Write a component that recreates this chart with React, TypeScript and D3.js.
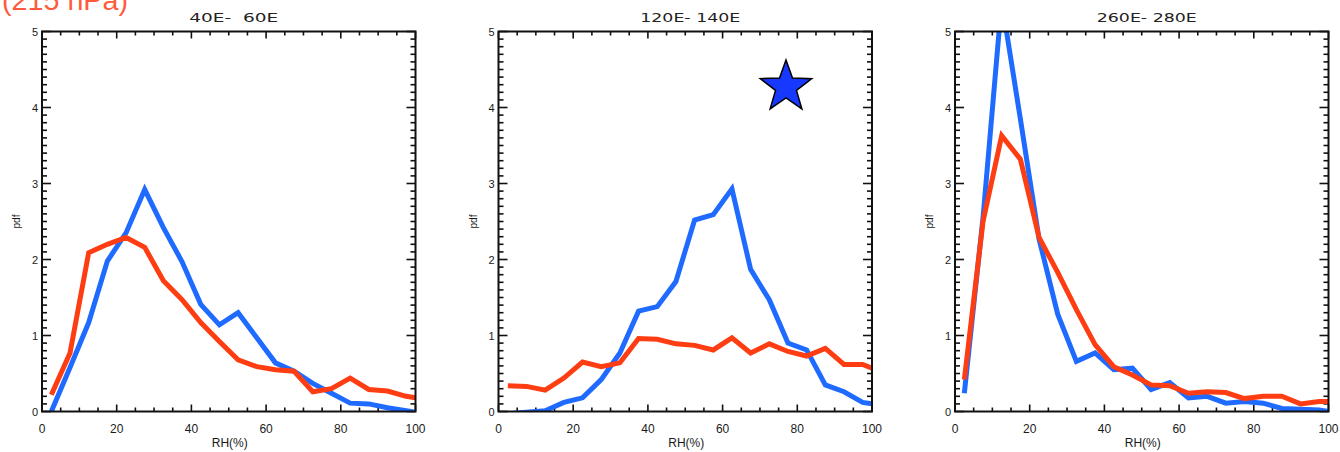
import React from 'react';
import * as d3 from 'd3';

// RH bin centres (%), last point at the right edge
const rhBins = [2.5, 7.5, 12.5, 17.5, 22.5, 27.5, 32.5, 37.5, 42.5, 47.5, 52.5, 57.5, 62.5, 67.5, 72.5, 77.5, 82.5, 87.5, 92.5, 97.5, 100];

const panelTitles = ['40E-  60E', '120E- 140E', '260E- 280E'];

const blue40E60E = [0.0, 0.58, 1.17, 1.98, 2.35, 2.92, 2.42, 1.97, 1.41, 1.14, 1.30, 0.97, 0.64, 0.53, 0.37, 0.24, 0.11, 0.10, 0.05, 0.01, -0.01];
const red40E60E = [0.22, 0.77, 2.09, 2.20, 2.29, 2.16, 1.72, 1.47, 1.17, 0.92, 0.68, 0.59, 0.55, 0.53, 0.26, 0.30, 0.44, 0.29, 0.27, 0.20, 0.18];

const blue120E140E = [-0.03, -0.01, 0.01, 0.12, 0.18, 0.42, 0.77, 1.32, 1.38, 1.71, 2.52, 2.59, 2.93, 1.87, 1.47, 0.90, 0.81, 0.35, 0.26, 0.12, 0.10];
const red120E140E = [0.34, 0.33, 0.28, 0.44, 0.65, 0.59, 0.64, 0.96, 0.95, 0.89, 0.87, 0.81, 0.97, 0.77, 0.89, 0.79, 0.73, 0.83, 0.62, 0.62, 0.57];

const blue260E280E = [0.24, 2.55, 5.40, 3.85, 2.27, 1.28, 0.66, 0.77, 0.55, 0.57, 0.29, 0.38, 0.18, 0.20, 0.11, 0.13, 0.11, 0.04, 0.03, 0.02, 0.0];
const red260E280E = [0.42, 2.50, 3.63, 3.32, 2.29, 1.83, 1.34, 0.88, 0.59, 0.48, 0.35, 0.34, 0.24, 0.26, 0.25, 0.17, 0.20, 0.20, 0.10, 0.13, 0.13];

const blueSeries = [blue40E60E, blue120E140E, blue260E280E];
const redSeries = [red40E60E, red120E140E, red260E280E];

const xTickLabels = [0, 20, 40, 60, 80, 100];
const yTickLabels = [0, 1, 2, 3, 4, 5];

const pressureLabel = '(215 hPa)';
const xAxisTitle = 'RH(%)';
const yAxisTitle = 'pdf';

// Layout
const W = 1340;
const H = 452;
const panelLefts = [42, 498.5, 955];
const plotW = 373.5;
const plotTop = 31.5;
const plotBottom = 411.5;
const titleLengths = [89, 100, 100];

const BLUE = '#1f6bff';
const RED = '#ff3d12';
const AXIS = '#111';
const FONT = "'Liberation Sans', Arial, sans-serif";
const TITLE_FONT = "'DejaVu Sans', 'Liberation Sans', sans-serif";

function Panel({ idx }: { idx: number }) {
  const left = panelLefts[idx];
  const right = left + plotW;
  const x = d3.scaleLinear().domain([0, 100]).range([left, right]);
  const y = d3.scaleLinear().domain([0, 5]).range([plotBottom, plotTop]);
  const line = d3
    .line<number>()
    .x((_, k) => x(rhBins[k]))
    .y((d) => y(d));

  const xMinor = d3.range(0, 100.001, 5);
  const yMinor = d3.range(0, 5.0001, 0.1);
  const clipId = `clip-${idx}`;
  const cx = (left + right) / 2;

  return (
    <g>
      <defs>
        <clipPath id={clipId}>
          <rect x={left} y={plotTop} width={plotW} height={plotBottom - plotTop} />
        </clipPath>
      </defs>
      <text
        x={cx + 5}
        y={22}
        fontSize={11.5}
        fontFamily={TITLE_FONT}
        fill="#222"
        textAnchor="middle"
        textLength={titleLengths[idx]}
        lengthAdjust="spacingAndGlyphs"
        style={{ whiteSpace: 'pre' }}
      >
        {panelTitles[idx]}
      </text>

      {/* ticks */}
      <g stroke={AXIS} strokeWidth={1.6}>
        {xMinor.map((v) => {
          const major = v % 20 === 0;
          const len = major ? 7 : 4;
          return (
            <g key={'xt' + v}>
              <line x1={x(v)} x2={x(v)} y1={plotBottom} y2={plotBottom - len} />
              <line x1={x(v)} x2={x(v)} y1={plotTop} y2={plotTop + len} />
            </g>
          );
        })}
        {yMinor.map((v, k) => {
          const major = k % 10 === 0;
          const len = major ? 9 : 5;
          return (
            <g key={'yt' + k}>
              <line x1={left} x2={left + len} y1={y(v)} y2={y(v)} />
              <line x1={right} x2={right - len} y1={y(v)} y2={y(v)} />
            </g>
          );
        })}
      </g>

      {/* data */}
      <g clipPath={`url(#${clipId})`} fill="none" strokeWidth={5} strokeLinejoin="miter" strokeMiterlimit={4}>
        <path d={line(blueSeries[idx]) || ''} stroke={BLUE} />
        <path d={line(redSeries[idx]) || ''} stroke={RED} />
      </g>

      {/* frame */}
      <rect x={left} y={plotTop} width={plotW} height={plotBottom - plotTop} fill="none" stroke={AXIS} strokeWidth={2} />

      {/* tick labels */}
      <g fontFamily={FONT} fontSize={12} fill="#1a1a1a">
        {xTickLabels.map((v) => (
          <text key={'xl' + v} x={x(v)} y={433} textAnchor="middle">
            {v}
          </text>
        ))}
        {yTickLabels.map((v) => (
          <text key={'yl' + v} x={left - 4} y={y(v) + 4} textAnchor="end" fontSize={11}>
            {v}
          </text>
        ))}
      </g>
      <text x={cx + 1} y={447} textAnchor="middle" fontFamily={FONT} fontSize={12} fill="#1a1a1a">
        {xAxisTitle}
      </text>
      <text
        transform={`translate(${left - 22},${(plotTop + plotBottom) / 2}) rotate(-90)`}
        textAnchor="middle"
        fontFamily={FONT}
        fontSize={10}
        fill="#1a1a1a"
      >
        {yAxisTitle}
      </text>
    </g>
  );
}

function starPath(cx: number, cy: number, R: number, r: number) {
  const pts: [number, number][] = [];
  for (let k = 0; k < 10; k++) {
    const a = -Math.PI / 2 + (k * Math.PI) / 5;
    const rad = k % 2 === 0 ? R : r;
    pts.push([cx + rad * Math.cos(a), cy + rad * Math.sin(a)]);
  }
  return d3.line()(pts) + 'Z';
}

export default function App() {
  return (
    <svg
      width={W}
      height={H}
      viewBox={`0 0 ${W} ${H}`}
      style={{ position: 'absolute', left: 0, top: 0, background: '#fff' }}
    >
      <rect x={0} y={0} width={W} height={H} fill="#fff" />
      <text x={2} y={9.5} fontFamily={FONT} fontSize={28} fill="#ff5a3c" textLength={126} lengthAdjust="spacingAndGlyphs">
        {pressureLabel}
      </text>
      {[0, 1, 2].map((i) => (
        <Panel key={i} idx={i} />
      ))}
      <path d={starPath(786, 87, 27, 11)} fill="#1638ff" stroke="#000" strokeWidth={1.5} strokeLinejoin="miter" />
    </svg>
  );
}
